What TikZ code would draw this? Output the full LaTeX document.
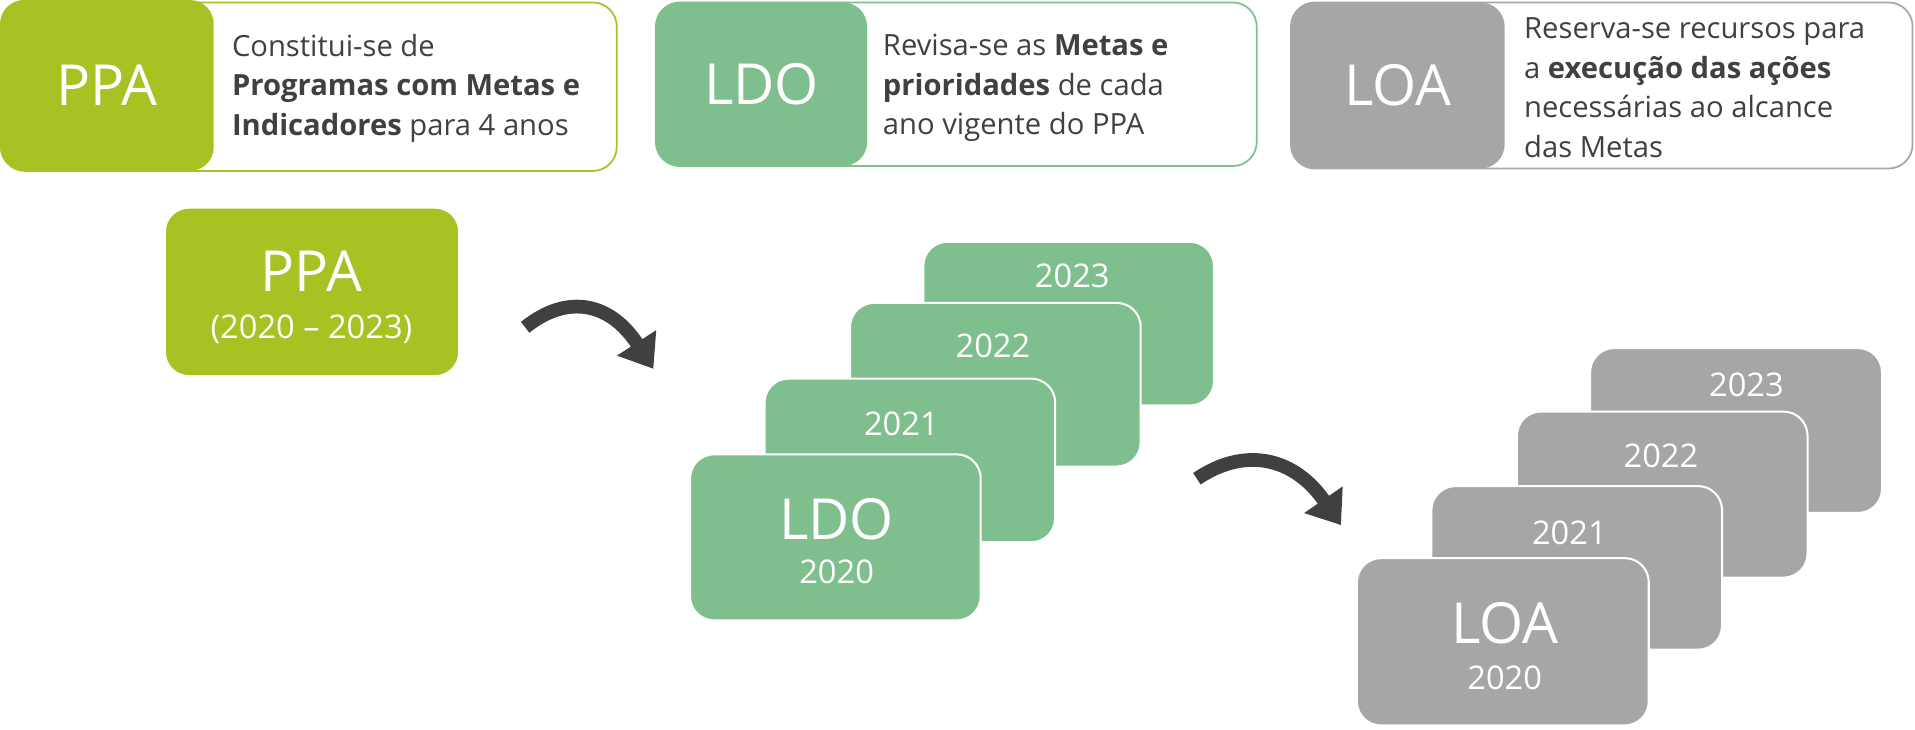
\documentclass[tikz,border=0pt]{standalone}
\usepackage{fontspec}
\setmainfont{Open Sans}
\usetikzlibrary{arrows.meta}
\definecolor{cppa}{HTML}{A9C122}
\definecolor{cldo}{HTML}{7FBF8E}
\definecolor{cloa}{HTML}{A6A6A6}
\definecolor{ctxt}{HTML}{404040}
\tikzset{
 outer/.style={draw=#1, line width=1pt, rounded corners=14pt, fill=white},
 head/.style={fill=#1, rounded corners=14pt, text=white, font=\fontsize{33}{36}\selectfont},
 desc/.style={anchor=west, align=left, text=ctxt, font=\fontsize{17}{23}\selectfont},
 card/.style={fill=#1, draw=white, line width=1.2pt, rounded corners=14pt},
 yr/.style={text=white, font=\fontsize{19}{22}\selectfont},
 bigarrow/.style={line width=8pt, draw=ctxt, -{Triangle[length=18pt,width=26pt]}},
}
\begin{document}
\begin{tikzpicture}[x=0.025cm,y=-0.025cm]
\useasboundingbox (0,0) rectangle (1568,597);
% top row
\draw[outer=cppa] (1,2) rectangle (505,140);
\node[head=cppa, minimum width=175*0.025cm, minimum height=140*0.025cm] (h1) at (87.5,70) {PPA};
\node[desc] (d1) at (185,72) {Constitui-se de\\\textbf{Programas com Metas e}\\\textbf{Indicadores} para 4 anos};
\draw[outer=cldo] (537,2) rectangle (1029,136);
\node[head=cldo, minimum width=173*0.025cm, minimum height=134*0.025cm] (h2) at (623.5,69) {LDO};
\node[desc] (d2) at (718,72) {Revisa-se as \textbf{Metas e}\\\textbf{prioridades} de cada\\ano vigente do PPA};
\draw[outer=cloa] (1057,2) rectangle (1566,138);
\node[head=cloa, minimum width=175*0.025cm, minimum height=136*0.025cm] (h3) at (1144.5,70) {LOA};
\node[desc] (d3) at (1243,72) {Reserva-se recursos para\\a \textbf{execução das ações}\\necessárias ao alcance\\das Metas};
% PPA box
\node[card=cppa, minimum width=241*0.025cm, minimum height=138*0.025cm] (ppa) at (255.5,239) {};
\node[yr, font=\fontsize{33}{36}\selectfont] (ppat) at (255,222) {PPA};
\node[yr] (ppay) at (255,270) {(2020 – 2023)};
% LDO stack
\node[card=cldo, minimum width=238*0.025cm, minimum height=134*0.025cm] (l3) at (875,265) {};
\node[yr] at (878,226) {2023};
\node[card=cldo, minimum width=238*0.025cm, minimum height=134*0.025cm] (l2) at (815,315) {};
\node[yr] at (813,283) {2022};
\node[card=cldo, minimum width=238*0.025cm, minimum height=134*0.025cm] (l1) at (745,377) {};
\node[yr] at (738,347) {2021};
\node[card=cldo, minimum width=238*0.025cm, minimum height=136*0.025cm] (l0) at (684,440) {};
\node[yr, font=\fontsize{33}{36}\selectfont] at (685,425) {LDO};
\node[yr] at (685,468) {2020};
% LOA stack
\node[card=cloa, minimum width=239*0.025cm, minimum height=135*0.025cm] (o3) at (1421.5,352.5) {};
\node[yr] at (1430,315) {2023};
\node[card=cloa, minimum width=238*0.025cm, minimum height=136*0.025cm] (o2) at (1361,405) {};
\node[yr] at (1360,373) {2022};
\node[card=cloa, minimum width=238*0.025cm, minimum height=134*0.025cm] (o1) at (1291,465) {};
\node[yr] at (1285,436) {2021};
\node[card=cloa, minimum width=239*0.025cm, minimum height=137*0.025cm] (o0) at (1230.5,525.5) {};
\node[yr, font=\fontsize{33}{36}\selectfont] at (1232,510) {LOA};
\node[yr] at (1232,555) {2020};
% arrows
\coordinate (a1s) at (430,268);
\coordinate (a1e) at (535,302);
\draw[bigarrow] (a1s) .. controls (465,240) and (500,248) .. (a1e);
\coordinate (a2s) at (980,392);
\coordinate (a2e) at (1098,430);
\draw[bigarrow] (a2s) .. controls (1020,365) and (1060,375) .. (a2e);
\end{tikzpicture}
\end{document}
